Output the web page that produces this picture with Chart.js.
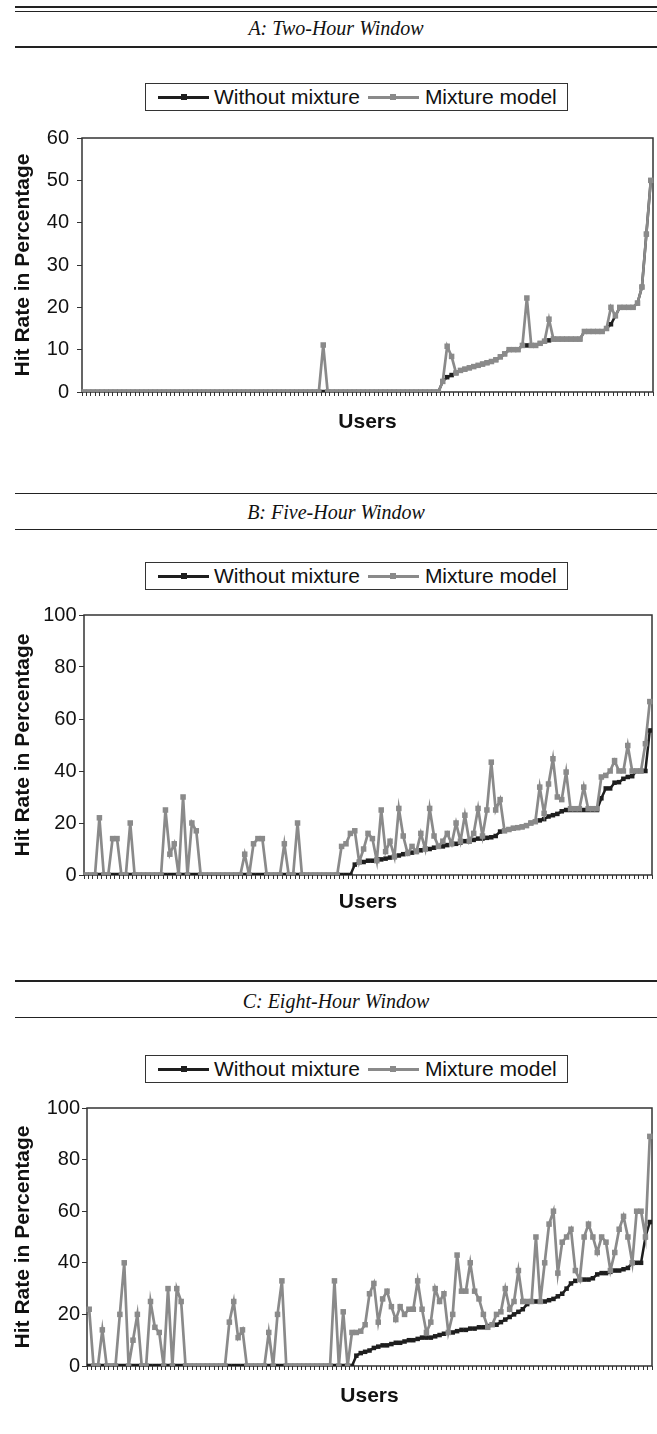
<!DOCTYPE html>
<html>
<head>
<meta charset="utf-8">
<script src="https://cdn.jsdelivr.net/npm/chart.js@4.4.1/dist/chart.umd.min.js"></script>
<style>
  body { margin: 0; background: #fff; width: 657px; height: 1434px; position: relative; overflow: hidden; }
  .rule { position: absolute; left: 15px; width: 642px; height: 1.6px; background: #222; }
  .ttl { position: absolute; left: 15px; width: 642px; text-align: center; line-height: 20px;
         font: italic 20px "Liberation Serif", "Times New Roman", serif; color: #111; }
  .legend { position: absolute; left: 145px; width: 423px; height: 28px; box-sizing: border-box;
            border: 1.5px solid #333; display: flex; align-items: center;
            font: 21px "Liberation Sans", Arial, sans-serif; color: #111; white-space: nowrap; }
  .sym { position: relative; width: 51px; height: 6px; display: inline-block; }
  .sym::before { content: ""; position: absolute; left: 0; right: 0; top: 1.5px; height: 3px; background: currentColor; }
  .sym::after { content: ""; position: absolute; left: 22.5px; top: 0; width: 6px; height: 6px; background: currentColor; }
  .blk { color: #1e1e1e; }
  .gry { color: #8a8a8a; }
  canvas { position: absolute; left: 0; }
</style>
</head>
<body>

<div class="rule" style="top:6px"></div>
<div class="rule" style="top:10.5px"></div>
<div class="ttl" style="top:16.5px">A: Two-Hour Window</div>
<div class="rule" style="top:46px"></div>
<div class="legend" style="top:83px">
  <span class="sym blk" style="margin-left:12px"></span><span style="margin-left:5px">Without mixture</span>
  <span class="sym gry" style="margin-left:8px"></span><span style="margin-left:6px">Mixture model</span>
</div>
<canvas id="chartA" width="657" height="332" style="top:118px"></canvas>

<div class="rule" style="top:492.5px"></div>
<div class="ttl" style="top:501.2px">B: Five-Hour Window</div>
<div class="rule" style="top:528.5px"></div>
<div class="legend" style="top:562px">
  <span class="sym blk" style="margin-left:12px"></span><span style="margin-left:5px">Without mixture</span>
  <span class="sym gry" style="margin-left:8px"></span><span style="margin-left:6px">Mixture model</span>
</div>
<canvas id="chartB" width="657" height="330" style="top:600px"></canvas>

<div class="rule" style="top:980.2px"></div>
<div class="ttl" style="top:990px">C: Eight-Hour Window</div>
<div class="rule" style="top:1016.5px"></div>
<div class="legend" style="top:1055px">
  <span class="sym blk" style="margin-left:12px"></span><span style="margin-left:5px">Without mixture</span>
  <span class="sym gry" style="margin-left:8px"></span><span style="margin-left:6px">Mixture model</span>
</div>
<canvas id="chartC" width="657" height="342" style="top:1092px"></canvas>

<script>
// users on the x axis (one category per user)
const users = Array.from({ length: 129 }, (_, i) => i + 1);

// A: two-hour window
const withoutA = [
  0, 0, 0, 0, 0, 0, 0, 0, 0, 0,
  0, 0, 0, 0, 0, 0, 0, 0, 0, 0,
  0, 0, 0, 0, 0, 0, 0, 0, 0, 0,
  0, 0, 0, 0, 0, 0, 0, 0, 0, 0,
  0, 0, 0, 0, 0, 0, 0, 0, 0, 0,
  0, 0, 0, 0, 0, 0, 0, 0, 0, 0,
  0, 0, 0, 0, 0, 0, 0, 0, 0, 0,
  0, 0, 0, 0, 0, 0, 0, 0, 0, 0,
  0, 2.5, 3.5, 4.0, 4.5, 5.1, 5.4, 5.7, 6.0, 6.3,
  6.6, 6.9, 7.2, 7.6, 8.3, 9.0, 10, 10, 10, 11,
  11, 11, 11, 11.5, 12, 12.2, 12.5, 12.5, 12.5, 12.5,
  12.5, 12.5, 12.5, 14.3, 14.3, 14.3, 14.3, 14.3, 15, 16,
  18, 20, 20, 20, 20, 21, 24.8, 37.3, 50
];
const mixtureA = [
  0, 0, 0, 0, 0, 0, 0, 0, 0, 0,
  0, 0, 0, 0, 0, 0, 0, 0, 0, 0,
  0, 0, 0, 0, 0, 0, 0, 0, 0, 0,
  0, 0, 0, 0, 0, 0, 0, 0, 0, 0,
  0, 0, 0, 0, 0, 0, 0, 0, 0, 0,
  0, 0, 0, 0, 11.1, 0, 0, 0, 0, 0,
  0, 0, 0, 0, 0, 0, 0, 0, 0, 0,
  0, 0, 0, 0, 0, 0, 0, 0, 0, 0,
  0, 2.5, 10.8, 8.4, 4.5, 5.1, 5.4, 5.7, 6.0, 6.3,
  6.6, 6.9, 7.2, 7.6, 8.3, 9.0, 10, 10, 10, 11,
  22.2, 11, 11, 11.5, 12, 17.2, 12.5, 12.5, 12.5, 12.5,
  12.5, 12.5, 12.5, 14.3, 14.3, 14.3, 14.3, 14.3, 15, 20,
  18, 20, 20, 20, 20, 21, 24.8, 37.3, 50
];

// B: five-hour window
const withoutB = [
  0, 0, 0, 0, 0, 0, 0, 0, 0, 0,
  0, 0, 0, 0, 0, 0, 0, 0, 0, 0,
  0, 0, 0, 0, 0, 0, 0, 0, 0, 0,
  0, 0, 0, 0, 0, 0, 0, 0, 0, 0,
  0, 0, 0, 0, 0, 0, 0, 0, 0, 0,
  0, 0, 0, 0, 0, 0, 0, 0, 0, 0,
  0, 4, 5, 5, 5.5, 5.5, 6, 6, 6.3, 6.7,
  7, 7.5, 8, 8.3, 8.6, 9, 9.5, 10, 10, 10.5,
  11, 11, 11.5, 12, 12, 12.5, 13, 13, 13.5, 14,
  14, 14.3, 14.5, 15, 16.7, 17, 17.5, 18, 18.2, 18.5,
  19, 20, 20.5, 21, 21.5, 22.5, 23, 23.5, 24.5, 25,
  25, 25, 25, 25, 25, 25, 25, 29.5, 33.3, 33.3,
  35.5, 35.7, 37, 37.7, 38, 40, 40, 40, 55.6
];
const mixtureB = [
  0, 0, 0, 22, 0, 0, 14, 14, 0, 0,
  20, 0, 0, 0, 0, 0, 0, 0, 25, 8,
  12, 0, 30, 0, 20, 17, 0, 0, 0, 0,
  0, 0, 0, 0, 0, 0, 8, 0, 12, 14,
  14, 0, 0, 0, 0, 12, 0, 0, 20, 0,
  0, 0, 0, 0, 0, 0, 0, 0, 11, 12,
  16, 17, 5, 10, 16, 14, 5.5, 25, 9, 13,
  7, 25.6, 15, 8.3, 11, 9, 16, 10, 25.6, 15,
  11, 13, 16, 12, 20, 13, 23, 13, 16, 25.6,
  15, 25, 43.4, 25, 29, 17, 17.5, 18, 18.2, 18.5,
  19, 20, 20.5, 33.8, 23.7, 35, 44.7, 30, 29, 39.6,
  25.5, 25.5, 25.5, 33.8, 25.5, 25.5, 25.5, 37.7, 38.3, 40,
  44, 40, 40, 49.8, 40, 40, 40, 50.5, 66.7
];

// C: eight-hour window
const withoutC = [
  0, 0, 0, 0, 0, 0, 0, 0, 0, 0,
  0, 0, 0, 0, 0, 0, 0, 0, 0, 0,
  0, 0, 0, 0, 0, 0, 0, 0, 0, 0,
  0, 0, 0, 0, 0, 0, 0, 0, 0, 0,
  0, 0, 0, 0, 0, 0, 0, 0, 0, 0,
  0, 0, 0, 0, 0, 0, 0, 0, 0, 0,
  0, 4, 5, 5.5, 6, 7, 7.5, 8, 8, 8.5,
  9, 9, 9.5, 10, 10, 10.5, 11, 11, 11, 11.5,
  12, 12.5, 13, 13, 13.5, 14, 14, 14.5, 14.5, 15,
  15, 15.5, 16, 16, 17, 18, 19, 20, 21, 22,
  24, 25, 25, 25, 25, 25.5, 26, 27, 28, 30,
  32, 33, 33.5, 33.5, 33.5, 34, 35.5, 36, 36, 36.5,
  37, 37, 37.5, 38, 40, 40, 40, 50, 55.8
];
const mixtureC = [
  22, 0, 0, 14, 0, 0, 0, 20, 40, 0,
  10, 20, 0, 0, 25, 15, 13, 0, 30, 0,
  30, 25, 0, 0, 0, 0, 0, 0, 0, 0,
  0, 0, 17, 25, 11, 14, 0, 0, 0, 0,
  0, 13, 0, 20, 33, 0, 0, 0, 0, 0,
  0, 0, 0, 0, 0, 0, 33, 0, 21, 0,
  13, 13, 13.5, 16, 28, 32, 17, 26, 29, 23,
  18, 23, 20, 22, 22, 33, 22, 13, 17, 30,
  25, 28, 13, 20, 43, 29, 29, 40, 29, 26,
  20, 15, 16, 20, 21, 30, 22, 25, 37, 25,
  25, 25, 50, 25, 40, 55, 60, 36, 48, 50,
  53, 37, 33.5, 50, 55, 50, 44, 50, 48, 37,
  44, 53, 58, 50, 40, 60, 60, 50, 89
];

const black = '#1e1e1e';
const gray = '#8a8a8a';
const sans = '"Liberation Sans", Arial, sans-serif';

// plot area border, like the excel frame
const framePlugin = {
  id: 'frame',
  beforeDatasetsDraw(chart) {
    const { ctx, chartArea: a } = chart;
    ctx.save();
    ctx.strokeStyle = '#333';
    ctx.lineWidth = 1.5;
    ctx.strokeRect(a.left, a.top, a.right - a.left, a.bottom - a.top);
    ctx.restore();
  }
};

function panel(id, without, mixture, g) {
  return new Chart(document.getElementById(id), {
    type: 'line',
    data: {
      labels: users,
      datasets: [
        { label: 'Without mixture', data: without, borderColor: black, backgroundColor: black,
          borderWidth: 2.5, pointStyle: 'rect', pointRadius: 3.2, pointBorderWidth: 0, tension: 0, order: 2 },
        { label: 'Mixture model', data: mixture, borderColor: gray, backgroundColor: gray,
          borderWidth: 2.7, pointStyle: 'rect', pointRadius: 3.9, pointBorderWidth: 0, tension: 0, order: 1 }
      ]
    },
    options: {
      responsive: false,
      animation: false,
      devicePixelRatio: 1,
      layout: { padding: { top: g.top, right: g.right, left: 0, bottom: 0 } },
      plugins: { legend: { display: false }, tooltip: { enabled: false } },
      scales: {
        x: {
          offset: true,
          grid: { offset: true, drawOnChartArea: false, tickLength: 4, color: '#333' },
          border: { display: false },
          ticks: { display: false, autoSkip: false },
          title: { display: true, text: 'Users', color: '#111',
                   font: { family: sans, size: 21, weight: 'bold' }, padding: { top: 0, bottom: g.usersPad } },
          afterFit(s) { s.height = g.xh; }
        },
        y: {
          min: 0,
          max: g.max,
          ticks: { stepSize: g.step, color: '#111', padding: g.tickPad, font: { family: sans, size: 20 } },
          grid: { drawOnChartArea: false, tickLength: 5, color: '#333' },
          border: { display: false },
          title: { display: true, text: 'Hit Rate in Percentage', color: '#111',
                   font: { family: sans, size: 21, weight: 'bold' }, padding: { top: 10.4, bottom: 0 } },
          afterFit(s) { s.width = g.yw; }
        }
      }
    },
    plugins: [framePlugin]
  });
}

panel('chartA', withoutA, mixtureA, { top: 15, right: 2, yw: 82, xh: 58, usersPad: 15.4, tickPad: 8, max: 60, step: 10 });
panel('chartB', withoutB, mixtureB, { top: 15, right: 5, yw: 84, xh: 55, usersPad: 15.4, tickPad: 2.5, max: 100, step: 20 });
panel('chartC', withoutC, mixtureC, { top: 16, right: 5, yw: 87, xh: 68, usersPad: 25.4, tickPad: 2, max: 100, step: 20 });
</script>
</body>
</html>
